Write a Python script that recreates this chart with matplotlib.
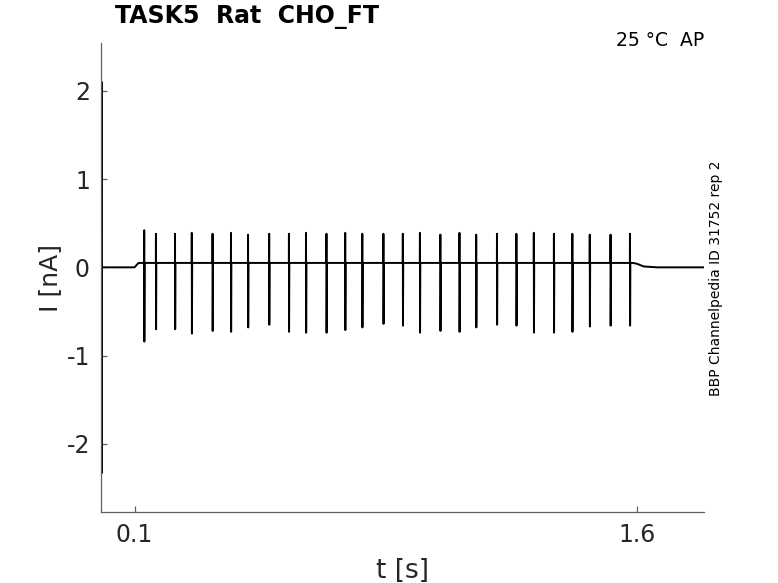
import matplotlib
matplotlib.use("Agg")
import matplotlib.pyplot as plt

# ---- data ----
spike_times = [0.129, 0.164, 0.221, 0.271, 0.333, 0.388, 0.439, 0.502, 0.561,
               0.612, 0.673, 0.729, 0.780, 0.843, 0.901, 0.952, 1.013, 1.070,
               1.120, 1.182, 1.240, 1.292, 1.352, 1.407, 1.459, 1.521, 1.579]
spike_peaks = [0.42, 0.38, 0.38, 0.39, 0.38, 0.39, 0.37, 0.38, 0.38,
               0.39, 0.38, 0.39, 0.38, 0.38, 0.38, 0.39, 0.37, 0.39,
               0.37, 0.38, 0.38, 0.39, 0.38, 0.38, 0.37, 0.37, 0.38]
spike_troughs = [-0.84, -0.70, -0.70, -0.75, -0.72, -0.73, -0.68, -0.65, -0.73,
                 -0.74, -0.74, -0.71, -0.68, -0.64, -0.66, -0.74, -0.72, -0.73,
                 -0.68, -0.65, -0.66, -0.74, -0.74, -0.73, -0.67, -0.66, -0.66]
# baseline segments (time, current)
pre_t = [0.0, 0.0012, 0.0016, 0.0021, 0.0030, 0.100, 0.112]
pre_i = [0.0, 0.0, 2.10, -2.33, 0.0, 0.0, 0.05]
post_t = [1.588, 1.600, 1.620, 1.660, 1.800]
post_i = [0.05, 0.04, 0.01, 0.0, 0.0]
stim_level = 0.05

xticks = [0.1, 1.6]
xticklabels = ["0.1", "1.6"]
yticks = [-2, -1, 0, 1, 2]
yticklabels = ["-2", "-1", "0", "1", "2"]

# ---- build trace ----
t = list(pre_t)
y = list(pre_i)
for ts, pk, tr in zip(spike_times, spike_peaks, spike_troughs):
    t += [ts - 0.0003, ts, ts + 0.0004, ts + 0.0012]
    y += [stim_level, pk, tr, stim_level]
t += post_t
y += post_i

fig = plt.figure(figsize=(7.78, 5.83), dpi=100)
ax = fig.add_axes([101/778, 1-512/583, (704-101)/778, (512-43)/583])
ax.plot(t, y, color="black", lw=1.4)

ax.set_xlim(0.0, 1.80)
ax.set_ylim(-2.77, 2.54)
for s in ["top", "right"]:
    ax.spines[s].set_visible(False)
for s in ["left", "bottom"]:
    ax.spines[s].set_color("#606060")
    ax.spines[s].set_linewidth(0.9)
ax.set_xticks(xticks)
ax.set_xticklabels(xticklabels)
ax.set_yticks(yticks)
ax.set_yticklabels(yticklabels)
ax.tick_params(direction="in", length=4, width=0.9, color="#606060",
               labelsize=17, labelcolor="#262626", pad=8)
ax.set_xlabel("t [s]", fontsize=19, color="#262626", labelpad=8)
ax.set_ylabel("I [nA]", fontsize=18, color="#262626", labelpad=3)

fig.text(115/778, 1-5/583, "TASK5  Rat  CHO_FT", fontsize=17, fontweight="bold",
         ha="left", va="top", color="black")
fig.text(704/778, 1-31/583, "25 °C  AP", fontsize=13.5, ha="right", va="top",
         color="black")
fig.text(716/778, 1-278/583, "BBP Channelpedia ID 31752 rep 2", fontsize=10,
         rotation=90, ha="center", va="center", color="black")

fig.savefig("out.png", dpi=100)
